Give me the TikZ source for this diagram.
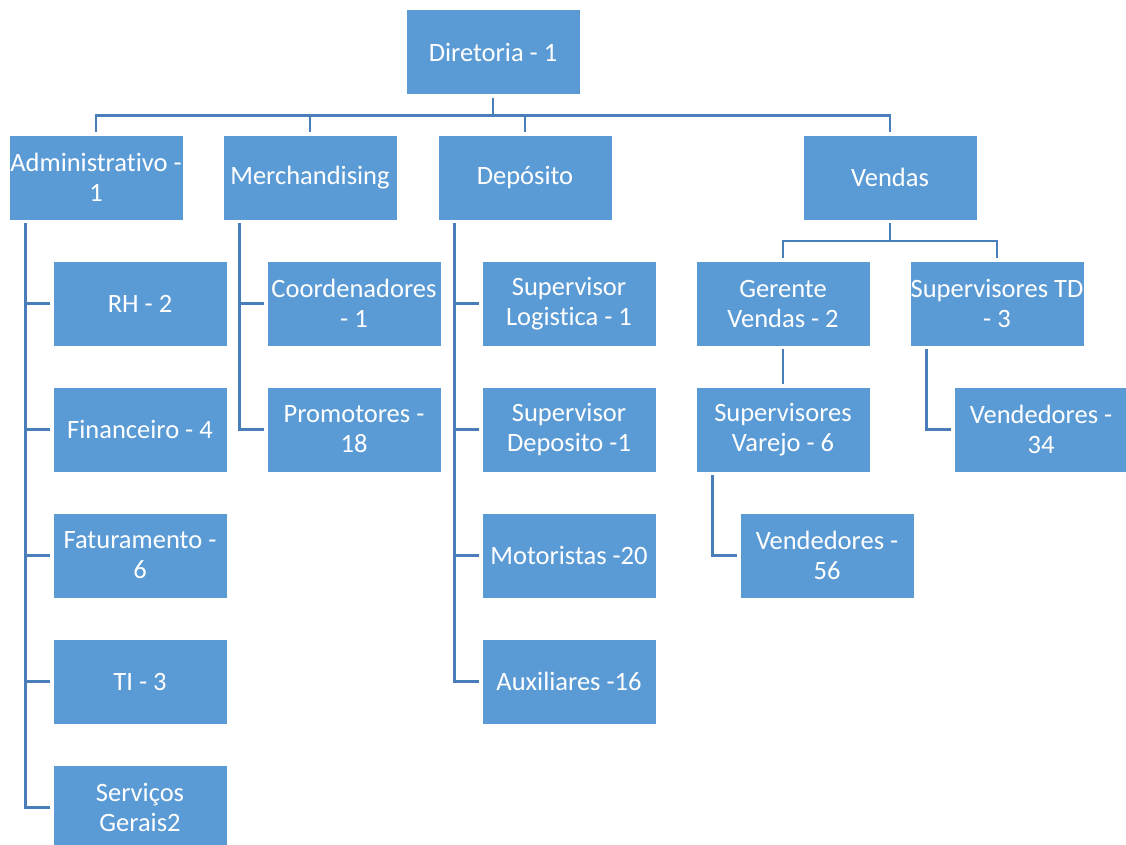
\documentclass[tikz,border=0pt]{standalone}
\usepackage{fontspec}
\setmainfont[Ligatures=NoCommon]{Carlito}
\definecolor{boxblue}{HTML}{5B9BD5}
\definecolor{linkblue}{HTML}{4A7EBB}
\tikzstyle{line} = [draw, color=linkblue, line width=2.5pt, shorten <=3pt, shorten >=3pt]
\tikzstyle{unit} = [rectangle, draw=white, line width=0.8pt, fill=boxblue, text=white, minimum width=174pt, minimum height=85pt, align=center, inner sep=0pt, node distance=126pt, font=\fontsize{26.5}{30}\selectfont]
\tikzstyle{sub} = [unit, xshift=44pt]

\begin{document}
\begin{tikzpicture}[x=1pt, y=-1pt]
	\useasboundingbox [fill=white] (0,0) rectangle (1126,845);

	\node [unit] (dir) at (493,52) {Diretoria - 1};

	\node [unit] (adm) at (96,177.5) {Administrativo -\\1};
	\node [unit] (merch) at (310,177.5) {Merchandising};
	\node [unit] (dep) at (525,177.5) {Depósito};
	\node [unit] (vend) at (890,177.5) {Vendas};

	\path [line] (dir.south) -- ++(0,20.5) -| (adm.north);
	\path [line] (dir.south) -- ++(0,20.5) -| (merch.north);
	\path [line] (dir.south) -- ++(0,20.5) -| (dep.north);
	\path [line] (dir.south) -- ++(0,20.5) -| (vend.north);

	% administrativo
	\node [sub, below of = adm] (rh) {RH - 2};
	\node [unit, below of = rh] (fin) {Financeiro - 4};
	\node [unit, below of = fin] (fat) {Faturamento -\\6};
	\node [unit, below of = fat] (ti) {TI - 3};
	\node [unit, below of = ti] (serv) {Serviços\\Gerais2};
	\path [line] ([xshift=17pt]adm.south west) |- (rh.west);
	\path [line] ([xshift=17pt]adm.south west) |- (fin.west);
	\path [line] ([xshift=17pt]adm.south west) |- (fat.west);
	\path [line] ([xshift=17pt]adm.south west) |- (ti.west);
	\path [line] ([xshift=17pt]adm.south west) |- (serv.west);

	% merchandising
	\node [sub, below of = merch] (coord) {Coordenadores\\- 1};
	\node [unit, below of = coord] (prom) {Promotores -\\18};
	\path [line] ([xshift=17pt]merch.south west) |- (coord.west);
	\path [line] ([xshift=17pt]merch.south west) |- (prom.west);

	% deposito
	\node [sub, below of = dep] (suplog) {Supervisor\\Logistica - 1};
	\node [unit, below of = suplog] (supdep) {Supervisor\\Deposito -1};
	\node [unit, below of = supdep] (mot) {Motoristas -20};
	\node [unit, below of = mot] (aux) {Auxiliares -16};
	\path [line] ([xshift=17pt]dep.south west) |- (suplog.west);
	\path [line] ([xshift=17pt]dep.south west) |- (supdep.west);
	\path [line] ([xshift=17pt]dep.south west) |- (mot.west);
	\path [line] ([xshift=17pt]dep.south west) |- (aux.west);

	% vendas
	\node [unit, below of = vend, xshift=-107pt] (ger) {Gerente\\Vendas - 2};
	\node [unit, below of = vend, xshift=107pt] (suptd) {Supervisores TD\\- 3};
	\path [line] (vend.south) -- ++(0,20.5) -| (ger.north);
	\path [line] (vend.south) -- ++(0,20.5) -| (suptd.north);

	\node [unit, below of = ger] (supvar) {Supervisores\\Varejo - 6};
	\path [line] (ger.south) -- (supvar.north);
	\node [sub, below of = supvar] (vend56) {Vendedores -\\56};
	\path [line] ([xshift=17pt]supvar.south west) |- (vend56.west);

	\node [sub, below of = suptd] (vend34) {Vendedores -\\34};
	\path [line] ([xshift=17pt]suptd.south west) |- (vend34.west);
\end{tikzpicture}
\end{document}
